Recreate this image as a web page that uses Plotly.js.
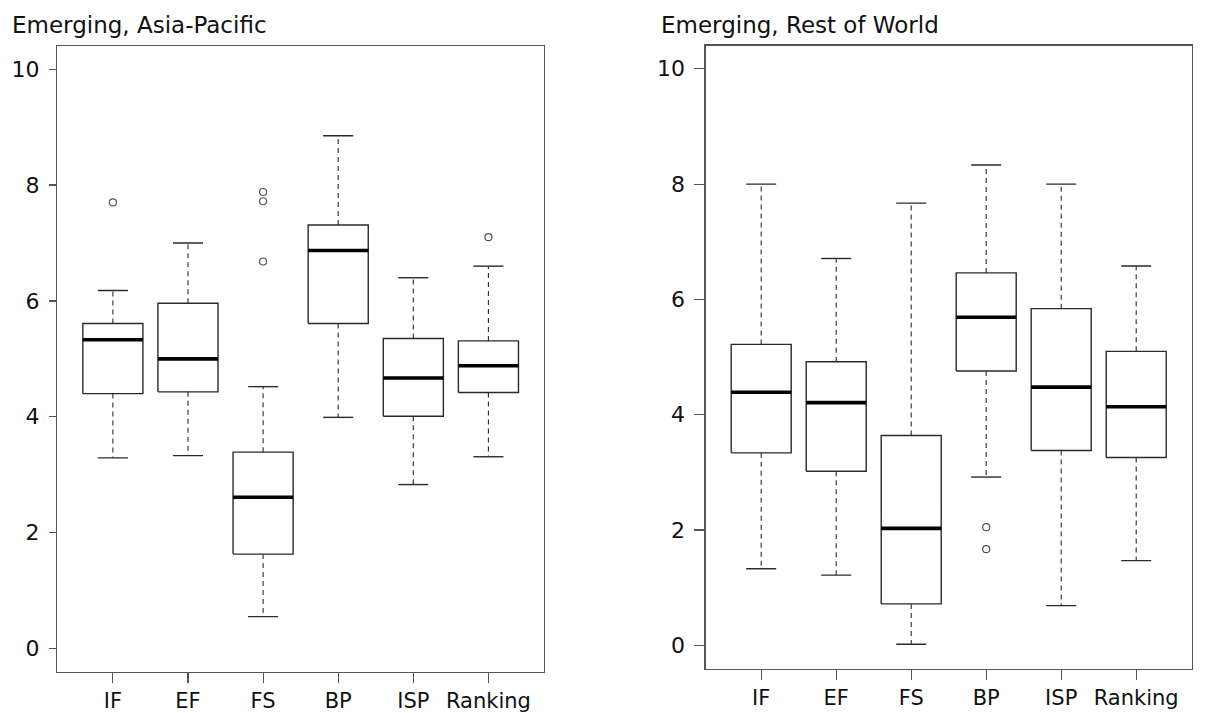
<!DOCTYPE html>
<html>
<head>
<meta charset="utf-8">
<script src="https://cdn.plot.ly/plotly-3.0.1.min.js"></script>
<style>
  html, body { margin: 0; padding: 0; background: #fff; }
  #chart { width: 1211px; height: 713px; }
</style>
</head>
<body>
<div id="chart"></div>
<script>
// ---- Data ----
const categories = ["IF", "EF", "FS", "BP", "ISP", "Ranking"];

// Emerging, Asia-Pacific
const apLower  = [3.29, 3.33, 0.55, 3.99, 2.83, 3.31];
const apQ1     = [4.40, 4.43, 1.63, 5.61, 4.01, 4.42];
const apMedian = [5.33, 5.00, 2.61, 6.87, 4.67, 4.88];
const apQ3     = [5.61, 5.96, 3.39, 7.31, 5.35, 5.31];
const apUpper  = [6.18, 7.00, 4.52, 8.85, 6.40, 6.60];
const apOutCat = ["IF", "FS", "FS", "FS", "Ranking"];
const apOutVal = [7.70, 7.88, 7.72, 6.68, 7.10];

// Emerging, Rest of World
const rwLower  = [1.33, 1.22, 0.02, 2.92, 0.69, 1.47];
const rwQ1     = [3.34, 3.02, 0.72, 4.76, 3.38, 3.26];
const rwMedian = [4.39, 4.21, 2.03, 5.69, 4.48, 4.14];
const rwQ3     = [5.22, 4.92, 3.64, 6.46, 5.84, 5.10];
const rwUpper  = [8.00, 6.71, 7.67, 8.33, 8.00, 6.58];
const rwOutCat = ["BP", "BP"];
const rwOutVal = [2.05, 1.67];

const yTicks = [0, 2, 4, 6, 8, 10];
const panelTitles = ["Emerging, Asia-Pacific", "Emerging, Rest of World"];

// ---- Styling ----
const BOX_HALF = 0.4, CAP_HALF = 0.2;
const FONT = "DejaVu Sans, Liberation Sans, Arial, sans-serif";
const DARK = "#2a2a2a", FRAME = "#555555";

function panelTraces(lo, q1, med, q3, hi, outCat, outVal, xa, ya) {
  const bx = [], by = [], mx = [], my = [], wx = [], wy = [], cx = [], cy = [];
  categories.forEach((c, i) => {
    const p = i + 1;
    bx.push(p - BOX_HALF, p + BOX_HALF, p + BOX_HALF, p - BOX_HALF, p - BOX_HALF, null);
    by.push(q1[i], q1[i], q3[i], q3[i], q1[i], null);
    mx.push(p - BOX_HALF, p + BOX_HALF, null);
    my.push(med[i], med[i], null);
    wx.push(p, p, null, p, p, null);
    wy.push(q3[i], hi[i], null, q1[i], lo[i], null);
    cx.push(p - CAP_HALF, p + CAP_HALF, null, p - CAP_HALF, p + CAP_HALF, null);
    cy.push(hi[i], hi[i], null, lo[i], lo[i], null);
  });
  const ox = outCat.map(c => categories.indexOf(c) + 1);
  const common = { xaxis: xa, yaxis: ya, hoverinfo: "skip", showlegend: false };
  return [
    Object.assign({ type: "scatter", mode: "lines", x: wx, y: wy,
      line: { color: DARK, width: 1.1, dash: "5px,4px" } }, common),
    Object.assign({ type: "scatter", mode: "lines", x: cx, y: cy,
      line: { color: DARK, width: 1.4 } }, common),
    Object.assign({ type: "scatter", mode: "lines", x: bx, y: by,
      line: { color: DARK, width: 1.4 } }, common),
    Object.assign({ type: "scatter", mode: "lines", x: mx, y: my,
      line: { color: "#000", width: 3.6 } }, common),
    Object.assign({ type: "scatter", mode: "markers", x: ox, y: outVal,
      marker: { symbol: "circle-open", size: 7, color: "#555", line: { width: 1.2 } } }, common)
  ];
}

const data = [].concat(
  panelTraces(apLower, apQ1, apMedian, apQ3, apUpper, apOutCat, apOutVal, "x", "y"),
  panelTraces(rwLower, rwQ1, rwMedian, rwQ3, rwUpper, rwOutCat, rwOutVal, "x2", "y2")
);

const W = 1211, H = 713;
function xAxis(domain) {
  return {
    domain: domain, range: [0.26, 6.74], fixedrange: true,
    tickmode: "array", tickvals: categories.map((c, i) => i + 1), ticktext: categories,
    ticks: "outside", ticklen: 10, tickwidth: 1.2, tickcolor: FRAME,
    showline: true, mirror: true, linecolor: FRAME, linewidth: 1.3,
    showgrid: false, zeroline: false, ticklabelstandoff: 0,
    tickfont: { family: FONT, size: 21, color: "#111" }
  };
}
function yAxis(domain, anchor, ticklen) {
  return {
    domain: domain, anchor: anchor, range: [-0.4, 10.4], fixedrange: true,
    tickmode: "array", tickvals: yTicks, ticktext: yTicks.map(String),
    ticks: "outside", ticklen: ticklen, tickwidth: 1.2, tickcolor: FRAME,
    showline: true, mirror: true, linecolor: FRAME, linewidth: 1.3,
    showgrid: false, zeroline: false, ticklabelstandoff: 5,
    tickfont: { family: FONT, size: 22, color: "#111" }
  };
}

const layout = {
  width: W, height: H,
  margin: { l: 0, r: 0, t: 0, b: 0 },
  paper_bgcolor: "#fff", plot_bgcolor: "#fff",
  showlegend: false,
  xaxis: Object.assign(xAxis([57.3 / W, 544 / W]), { anchor: "y" }),
  yaxis: yAxis([1 - 671.7 / H, 1 - 46 / H], "x", 7),
  xaxis2: Object.assign(xAxis([705.7 / W, 1191.7 / W]), { anchor: "y2" }),
  yaxis2: yAxis([1 - 668.5 / H, 1 - 45.7 / H], "x2", 10),
  annotations: [
    { text: panelTitles[0], xref: "paper", yref: "paper", x: 10 / W, y: 1 - 25 / H,
      xanchor: "left", yanchor: "middle", showarrow: false,
      font: { family: FONT, size: 23, color: "#111" } },
    { text: panelTitles[1], xref: "paper", yref: "paper", x: 659 / W, y: 1 - 25 / H,
      xanchor: "left", yanchor: "middle", showarrow: false,
      font: { family: FONT, size: 23, color: "#111" } }
  ]
};

Plotly.newPlot("chart", data, layout, { displayModeBar: false, staticPlot: true });
</script>
</body>
</html>
